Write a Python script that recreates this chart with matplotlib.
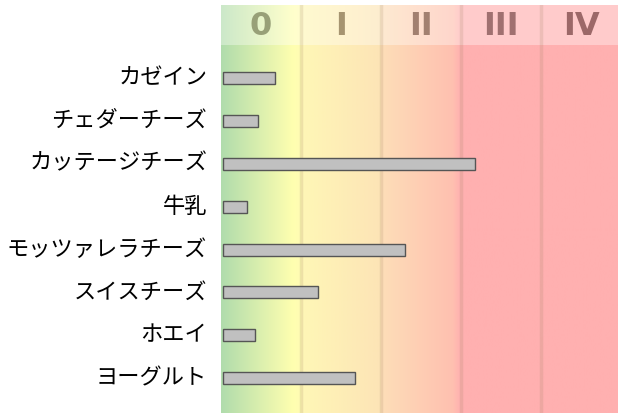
import numpy as np
from matplotlib import pyplot as plt
import matplotlib.transforms as mtransforms

plt.rcParams['font.family'] = ['Noto Sans CJK JP', 'DejaVu Sans']

# data
foods = ['カゼイン', 'チェダーチーズ', 'カッテージチーズ', '牛乳',
         'モッツァレラチーズ', 'スイスチーズ', 'ホエイ', 'ヨーグルト']
values = [0.66, 0.44, 3.15, 0.30, 2.28, 1.19, 0.41, 1.66]
levels = ['0', 'I', 'II', 'III', 'IV']
level_colors = ['#98a078', '#a69470', '#a28070', '#a07070', '#9c6868']

W, H = 618, 413
fig = plt.figure(figsize=(W / 100, H / 100), dpi=100)
ax = fig.add_axes([221 / W, 0, 397 / W, 408 / H])

xmax = 397 / 80
ytop, ybot = -1.70, 7.81
yhead = -0.77

# background gradient
stops_x = [0.0, 0.9, 1.0, 1.0, 2.0, 2.0, 2.9, 3.0, xmax]
stops_c = np.array([
    [176, 220, 172], [255, 255, 176], [255, 252, 180],
    [255, 247, 182], [253, 228, 182],
    [253, 222, 184], [255, 192, 176], [255, 176, 176], [255, 176, 176]]) / 255
xs = np.linspace(0, xmax, 800)
grad = np.stack([np.interp(xs, stops_x, stops_c[:, k]) for k in range(3)], axis=-1)
ax.imshow(grad[None, :, :], extent=[0, xmax, ybot, yhead], aspect='auto', zorder=0)
light = grad * 0.65 + 0.35
ax.imshow(light[None, :, :], extent=[0, xmax, yhead, ytop], aspect='auto', zorder=0)

for i in range(1, 5):
    ax.axvline(i, color='#a08060', alpha=0.18, lw=2.5, zorder=1)

for i, lv in enumerate(levels):
    ax.text(i + 0.5, (ytop + yhead) / 2 + 0.03, lv, ha='center', va='center',
            fontsize=23, fontweight='bold', color=level_colors[i],
            family='DejaVu Sans', zorder=2)

y = np.arange(len(foods))
ax.barh(y, values, left=0.02, height=0.28, color='#c0c0c0', edgecolor='#555555',
        linewidth=1, zorder=3)

ax.set_xlim(0, xmax)
ax.set_ylim(ybot, ytop)
ax.set_yticks(y)
ax.set_yticklabels(foods, fontsize=16)
ax.tick_params(axis='y', length=0, pad=10)
# nudge labels up a touch
shift = mtransforms.ScaledTranslation(0, 3 / 100, fig.dpi_scale_trans)
for lab in ax.get_yticklabels():
    lab.set_transform(lab.get_transform() + shift)
ax.set_xticks([])
for s in ax.spines.values():
    s.set_visible(False)

fig.text(1.0, 1.0 + 0.012, '平面図', ha='right', va='center', fontsize=10)

fig.savefig('out.png', dpi=100)
